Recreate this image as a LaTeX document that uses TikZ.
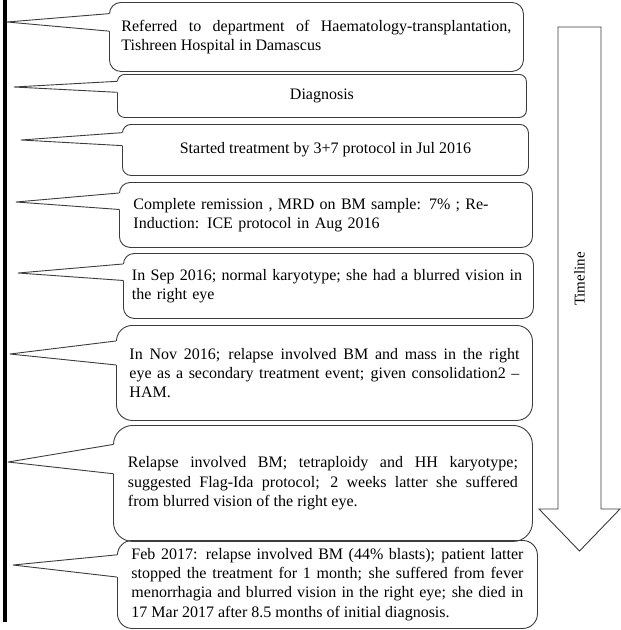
\documentclass[tikz,border=0pt]{standalone}
\usepackage{fontspec}
\setmainfont{Liberation Serif}
\usetikzlibrary{calc}
\definecolor{edge}{HTML}{3C3C3C}
\tikzset{
  event/.style={draw=edge, line width=0.9pt, anchor=north west,
    inner xsep=2pt, inner ysep=0pt, font=\fontsize{16}{19.3}\selectfont},
  pointer/.style={draw=edge, line width=0.9pt, line join=round},
}
\begin{document}
\begin{tikzpicture}[x=1pt, y=-1pt]
  \useasboundingbox (0,0) rectangle (621,630);
  % time axis on the left
  \coordinate (axistop) at (4.7,0);
  \coordinate (axisend) at (4.7,622);
  \draw[line width=3.6pt] (axistop) -- (axisend);
  % events
  \node[event, align=justify, text width=390pt, minimum width=414pt,
    minimum height=69pt, rounded corners=11.5pt] (ev1) at (109,2)
    {Referred to department of Haematology-transplantation,\linebreak
     Tishreen Hospital in Damascus};
  \node[event, align=center, minimum width=409pt,
    minimum height=43pt, rounded corners=7.2pt] (ev2) at (117,74)
    {Diagnosis};
  \node[event, align=center, minimum width=406pt,
    minimum height=51pt, rounded corners=8.5pt] (ev3) at (122,124)
    {Started treatment by 3+7 protocol in Jul 2016};
  \node[event, align=left, text width=385pt, minimum width=413pt,
    minimum height=65pt, rounded corners=10.8pt] (ev4) at (119,182)
    {Complete remission , MRD on BM sample: 7\% ; Re-\\
     Induction: ICE protocol in Aug 2016};
  \node[event, align=left, text width=393pt, minimum width=410pt,
    minimum height=65pt, rounded corners=10.8pt] (ev5) at (123,253)
    {In Sep 2016; normal karyotype; she had a blurred vision in\\
     the right eye};
  \node[event, align=justify, text width=390pt, minimum width=416pt,
    minimum height=95pt, rounded corners=15.8pt] (ev6) at (116,325)
    {In Nov 2016; relapse involved BM and mass in the right\linebreak
     eye as a secondary treatment event; given consolidation2 --\linebreak
     HAM.};
  \node[event, align=justify, text width=390pt, minimum width=419pt,
    minimum height=116pt, rounded corners=19.3pt] (ev7) at (113,425)
    {Relapse involved BM; tetraploidy and HH karyotype;\linebreak
     suggested Flag-Ida protocol; 2 weeks latter she suffered\linebreak
     from blurred vision of the right eye.};
  \node[event, align=justify, text width=392pt, minimum width=420pt,
    minimum height=88pt, rounded corners=14.7pt] (ev8) at (117,540)
    {Feb 2017: relapse involved BM (44\% blasts); patient latter\linebreak
     stopped the treatment for 1 month; she suffered from fever\linebreak
     menorrhagia and blurred vision in the right eye; she died in\linebreak
     17 Mar 2017 after 8.5 months of initial diagnosis.};
  % pointers from the boxes to the axis
  \foreach \ev/\tx/\ty in {ev1/7/22, ev2/14/87, ev3/21/140, ev4/16/202,
      ev5/18/273, ev6/10/354, ev7/8/462, ev8/13/565} {
    \coordinate (\ev tip) at (\tx,\ty);
    \coordinate (\ev a) at ($(\ev.north west)!1/6!(\ev.south west)$);
    \coordinate (\ev b) at ($(\ev.north west)!5/12!(\ev.south west)$);
    \fill[white] ([xshift=1.5pt]\ev a) -- (\ev tip) -- ([xshift=1.5pt]\ev b) -- cycle;
    \draw[pointer] (\ev a) -- (\ev tip) -- (\ev b);
  }
  % timeline arrow
  \draw[draw=edge, line width=0.9pt, line join=miter]
    (558,27) -- (601,27) -- (601,509) -- (620,509) -- (579.5,551)
    -- (539,509) -- (558,509) -- cycle;
  \node[rotate=90, font=\fontsize{15}{18}\selectfont] (tl) at (579.5,279) {Timeline};
\end{tikzpicture}
\end{document}
